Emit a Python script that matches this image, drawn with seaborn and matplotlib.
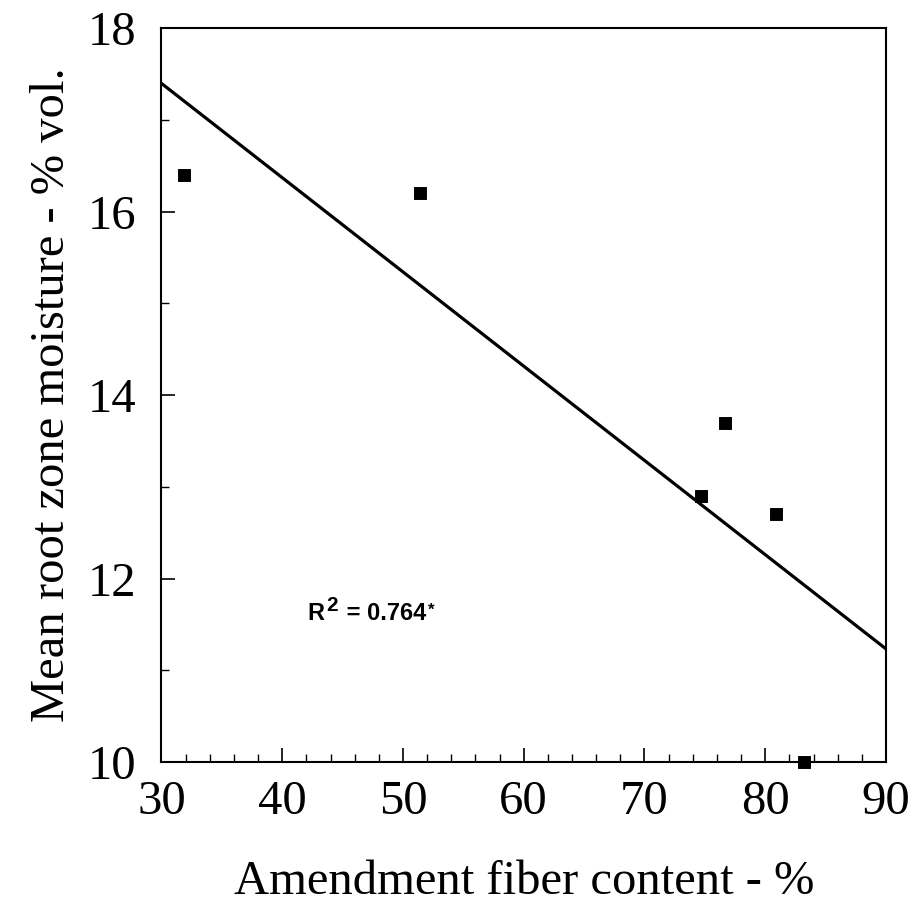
import matplotlib
matplotlib.use("Agg")
import matplotlib.pyplot as plt
import seaborn as sns
import pandas as pd
from matplotlib.ticker import MultipleLocator

# Amendment fiber content (%) and mean root zone moisture (% vol.)
fiber = [31.9, 51.4, 74.7, 76.7, 80.9, 83.2]
moisture = [16.4, 16.2, 12.9, 13.7, 12.7, 10.0]
r2_label = "0.764"

x_ticks = [30, 40, 50, 60, 70, 80, 90]
y_ticks = [10, 12, 14, 16, 18]

df = pd.DataFrame({"fiber": fiber, "moisture": moisture})

sns.set_theme(style="ticks")
plt.rcParams["font.family"] = ["Liberation Serif", "DejaVu Serif"]
plt.rcParams["text.color"] = "black"
plt.rcParams["axes.labelcolor"] = "black"

fig = plt.figure(figsize=(9.15, 9.09), dpi=100)
ax = fig.add_axes([0.1765, 0.1617, 0.7918, 0.8075])
ax.set_xlim(30, 90)
ax.set_ylim(10, 18)

# least-squares fit across the full axis range
sns.regplot(data=df, x="fiber", y="moisture", ax=ax, ci=None, scatter=False,
            truncate=False, line_kws=dict(color="black", lw=2.3))
sns.scatterplot(data=df, x="fiber", y="moisture", ax=ax, marker="s", s=70,
                color="black", edgecolor="black", clip_on=False, zorder=5)

ax.set_xticks(x_ticks)
ax.set_yticks(y_ticks)
ax.xaxis.set_minor_locator(MultipleLocator(2))
ax.yaxis.set_minor_locator(MultipleLocator(1))
ax.tick_params(which="major", direction="in", length=10, width=1.2,
               labelsize=35, colors="black")
ax.tick_params(axis="x", which="major", pad=13)
ax.tick_params(axis="y", which="major", pad=18)
ax.tick_params(which="minor", direction="in", length=6, width=1.0,
               colors="black")
for s in ax.spines.values():
    s.set_linewidth(1.5)
    s.set_color("black")

ax.set_xlabel("Amendment fiber content - %", fontsize=35, labelpad=26)
ax.set_ylabel("Mean root zone moisture - % vol.", fontsize=35, labelpad=10)

# R-squared annotation, built from pieces so the superscript stays large
sans = ["Liberation Sans", "DejaVu Sans"]
t1 = ax.text(42.1, 11.55, "R", fontsize=17, family=sans, fontweight="bold",
             va="baseline", ha="left")
t2 = ax.annotate("2", xy=(1, 0), xycoords=t1, xytext=(1, 7),
                 textcoords="offset points", fontsize=15, family=sans,
                 fontweight="bold", va="bottom", ha="left")
t3 = ax.annotate(" = " + r2_label, xy=(1, 0), xycoords=t1, xytext=(11, 0),
                 textcoords="offset points", fontsize=17, family=sans,
                 fontweight="bold", va="bottom", ha="left")
ax.annotate("*", xy=(1, 0), xycoords=t3, xytext=(1, 5),
            textcoords="offset points", fontsize=12, family=sans,
            fontweight="bold", va="bottom", ha="left")

fig.savefig("out.png", dpi=100)
